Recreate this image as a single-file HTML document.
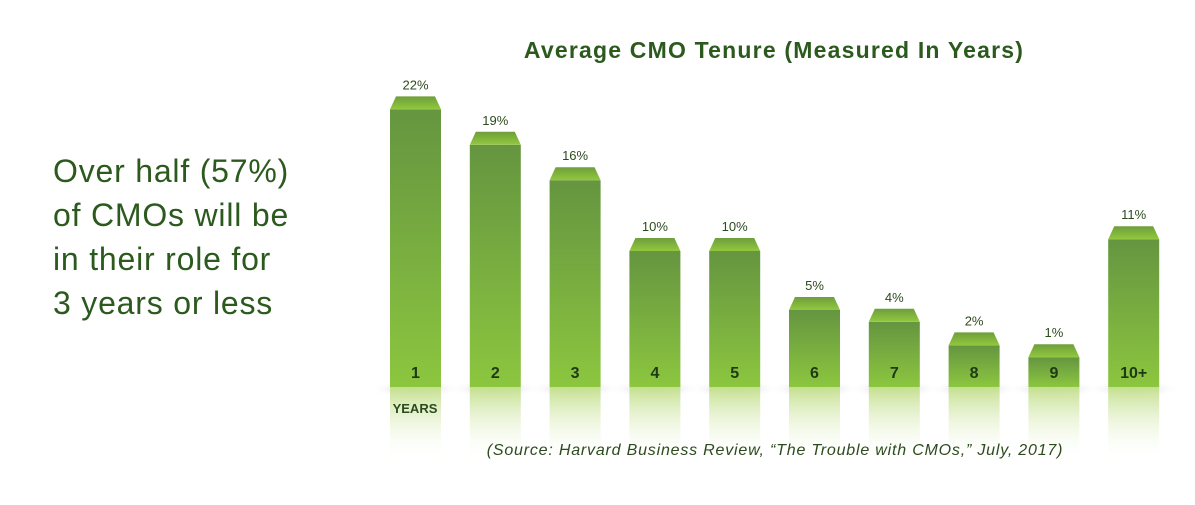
<!DOCTYPE html>
<html><head><meta charset="utf-8"><style>
body{margin:0;width:1195px;height:500px;background:#fff;overflow:hidden;font-family:"Liberation Sans",sans-serif}
</style></head><body>
<svg width="1195" height="500">
<defs>
<linearGradient id="front" x1="0" y1="0" x2="0" y2="1"><stop offset="0" stop-color="#659540"/><stop offset="1" stop-color="#8cc63f"/></linearGradient>
<linearGradient id="cap" x1="0" y1="0" x2="0" y2="1"><stop offset="0" stop-color="#6e9e3c"/><stop offset="1" stop-color="#92c83e"/></linearGradient>
<linearGradient id="refl" x1="0" y1="0" x2="0" y2="1"><stop offset="0" stop-color="#c4e08f"/><stop offset="1" stop-color="#ffffff" stop-opacity="0"/></linearGradient>
<radialGradient id="shadow"><stop offset="0" stop-color="#8a8aa8" stop-opacity="0.5"/><stop offset="1" stop-color="#fff" stop-opacity="0"/></radialGradient>
</defs>
<g font-size="32" letter-spacing="0.8" fill="#2c5a1e" font-family="'Liberation Sans',sans-serif">
<text x="53" y="182">Over half (57%)</text>
<text x="53" y="226">of CMOs will be</text>
<text x="53" y="270">in their role for</text>
<text x="53" y="314">3 years or less</text>
</g>
<text x="774" y="58" text-anchor="middle" font-size="23" letter-spacing="1.2" font-weight="bold" fill="#2c5a1e">Average CMO Tenure (Measured In Years)</text>
<g id="bars"></g>
<text x="415" y="413" text-anchor="middle" font-size="13" font-weight="bold" fill="#2c4a1e">YEARS</text>
<text x="775" y="455" text-anchor="middle" font-size="16" letter-spacing="0.8" font-style="italic" fill="#2c4a1e">(Source: Harvard Business Review, “The Trouble with CMOs,” July, 2017)</text>
</svg>
<script>
const categories=["1","2","3","4","5","6","7","8","9","10+"];
const values=[22,19,16,10,10,5,4,2,1,11];
const valueLabels=["22%","19%","16%","10%","10%","5%","4%","2%","1%","11%"];
const base=387, x0=390, step=79.8, bw=51;
function y(v){return base-(18+11.8*v);}
const g=document.getElementById('bars');const ns='http://www.w3.org/2000/svg';
function mk(t,a){const e=document.createElementNS(ns,t);for(const k in a)e.setAttribute(k,a[k]);g.appendChild(e);return e;}
values.forEach((v,i)=>{
 const x=x0+i*step, top=y(v);
 const sh=mk('ellipse',{cx:x+bw/2,cy:base+2,rx:bw*0.9,ry:9,fill:'url(#shadow)'});
 
 const r=mk('rect',{x:x,y:base,width:bw,height:75,fill:'url(#refl)'});
 
 const f=mk('rect',{x:x,y:top,width:bw,height:base-top,fill:'url(#front)'});
 
 const c=mk('polygon',{points:`${x+6},${top-13} ${x+bw-6},${top-13} ${x+bw},${top} ${x},${top}`,fill:'url(#cap)'});
 
 const l=mk('text',{x:x+bw/2,y:top-20,'text-anchor':'middle','font-size':13,fill:'#2c4a1e'});l.textContent=valueLabels[i];
 
 const cl=mk('text',{x:x+bw/2,y:378,'text-anchor':'middle','font-size':16,'font-weight':'bold',fill:'#1e3a14'});cl.textContent=categories[i];
 
});
</script>
</body></html>
